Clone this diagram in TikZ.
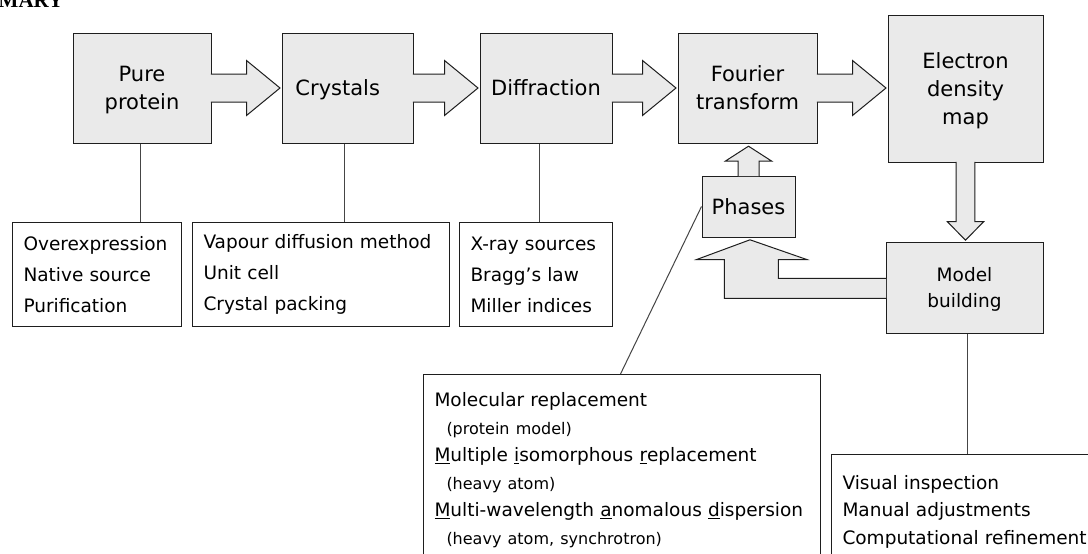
\documentclass[tikz,border=0pt]{standalone}
\usepackage{fontspec}
\setmainfont{DejaVu Sans}
\newfontfamily\titlefont{Liberation Serif}
\usetikzlibrary{calc}
\definecolor{boxfill}{HTML}{EAEAEA}
\definecolor{boxline}{HTML}{1E1E1E}
\definecolor{connline}{HTML}{454545}
\newcommand\subf{\fontsize{16}{27.6}\selectfont}
\newcommand\fatright[2]{%
  \filldraw[fatarrow] ($(#1.east)+(-0.6,-14)$) -- ($(#2.west |- #1.east)+(-35,-14)$) -- ($(#2.west |- #1.east)+(-35,-27.5)$) -- ($(#2.west |- #1.east)+(-1.5,0)$) -- ($(#2.west |- #1.east)+(-35,27.5)$) -- ($(#2.west |- #1.east)+(-35,14)$) -- ($(#1.east)+(-0.6,14)$);}
\begin{document}
\begin{tikzpicture}[x=1pt,y=-1pt,
  stage/.style={draw=boxline, fill=boxfill, line width=1pt, inner sep=0pt, align=center, text depth=0pt, font=\fontsize{21}{28}\selectfont},
  listbox/.style={draw=boxline, fill=white, line width=1pt, inner xsep=11pt, inner ysep=0pt, align=left, font=\fontsize{18.5}{31}\selectfont},
  fatarrow/.style={draw=boxline, fill=boxfill, line width=1pt, line join=miter},
  conn/.style={draw=connline, line width=1pt}]
\useasboundingbox (0,0) rectangle (1088,554);
\clip (0,0) rectangle (1088,554);
\fill[white] (0,0) rectangle (1088,554);

\node[anchor=base east, inner sep=0pt, font=\fontsize{21}{21}\selectfont\titlefont\bfseries] (title) at (63.5,7.5) {SUMMARY};

% stages
\node[stage, minimum width=138pt, minimum height=110pt] (pp) at (142,88) {Pure\\protein};
\node[stage, minimum width=131pt, minimum height=110pt] (cr) at (347.5,88) {Crystals\kern19.5pt};
\node[stage, minimum width=132pt, minimum height=110pt] (di) at (546,88) {Diffraction};
\node[stage, minimum width=139pt, minimum height=110pt] (ft) at (747.5,88) {Fourier\\transform};
\node[stage, minimum width=155pt, minimum height=147pt] (ed) at (965.5,88.5) {Electron\\density\\map};
\node[stage, minimum width=93pt, minimum height=61pt] (ph) at (748.5,206.5) {Phases};
\node[stage, minimum width=157pt, minimum height=91pt, font=\fontsize{18.5}{26}\selectfont] (mb) at (964.5,287.5) {Model\\building};

% list boxes
\node[listbox, anchor=north west, text width=147pt, minimum height=104pt] (l1) at (12,222) {Overexpression\\Native source\\Purification};
\node[listbox, anchor=north west, text width=235pt, minimum height=104pt] (l2) at (192,222) {Vapour diffusion method\\Unit cell\\Crystal packing};
\node[listbox, anchor=north west, text width=131pt, minimum height=104pt] (l3) at (459,222) {X-ray sources\\Bragg’s law\\Miller indices};
\node[listbox, anchor=north west, text width=375pt, inner ysep=18pt, font=\fontsize{18.5}{27.6}\selectfont] (l4) at (423,374) {Molecular replacement\\
\hspace*{12pt}{\subf (protein model)}\\
\underline{M}ultiple \underline{i}somorphous \underline{r}eplacement\\
\hspace*{12pt}{\subf (heavy atom)}\\
\underline{M}ulti-wavelength \underline{a}nomalous \underline{d}ispersion\\
\hspace*{12pt}{\subf (heavy atom, synchrotron)}};
\node[listbox, anchor=north west, text width=300pt, inner ysep=20.5pt, font=\fontsize{18.5}{27.5}\selectfont] (l5) at (831,454) {Visual inspection\\Manual adjustments\\Computational refinement};

% fat arrows
\fatright{pp}{cr}
\fatright{cr}{di}
\fatright{di}{ft}
\fatright{ft}{ed}
\filldraw[fatarrow] ($(ed.south)+(-9.3,-0.6)$) -- ($(ed.south |- mb.north)+(-9.3,-20)$) -- ($(ed.south |- mb.north)+(-18.3,-20)$) -- ($(ed.south |- mb.north)+(0,-1.3)$) -- ($(ed.south |- mb.north)+(18.3,-20)$) -- ($(ed.south |- mb.north)+(9.3,-20)$) -- ($(ed.south)+(9.3,-0.6)$);
\filldraw[fatarrow] ($(ph.north)+(-10.5,0.6)$) -- ($(ph.north |- ft.south)+(-10.5,17.7)$) -- ($(ph.north |- ft.south)+(-23.3,17.7)$) -- ($(ph.north |- ft.south)+(0,2.7)$) -- ($(ph.north |- ft.south)+(23.3,17.7)$) -- ($(ph.north |- ft.south)+(10.5,17.7)$) -- ($(ph.north)+(10.5,0.6)$);
\filldraw[fatarrow] ($(mb.west)+(0.6,-9.2)$) -- ($(ph.south |- mb.west)+(29.8,-9.2)$) -- ($(ph.south)+(29.8,22)$) -- ($(ph.south)+(58.2,22)$) -- ($(ph.south)+(1.5,2.3)$) -- ($(ph.south)+(-51.8,22)$) -- ($(ph.south)+(-24.2,22)$) -- ($(ph.south |- mb.west)+(-24.2,10.8)$) -- ($(mb.west)+(0.6,10.8)$);

% connectors
\coordinate (c1) at ([xshift=-2pt]pp.south);
\coordinate (c2) at ([xshift=-3.5pt]cr.south);
\coordinate (c3) at ([xshift=-7pt]di.south);
\coordinate (c5) at ([xshift=3pt]mb.south);
\coordinate (c4) at ([xshift=-1.5pt]l4.north);
\draw[conn] (c1) -- (c1 |- l1.north);
\draw[conn] (c2) -- (c2 |- l2.north);
\draw[conn] (c3) -- (c3 |- l3.north);
\draw[conn] (c5) -- (c5 |- l5.north);
\draw[conn] (ph.west) -- (c4);
\end{tikzpicture}
\end{document}
